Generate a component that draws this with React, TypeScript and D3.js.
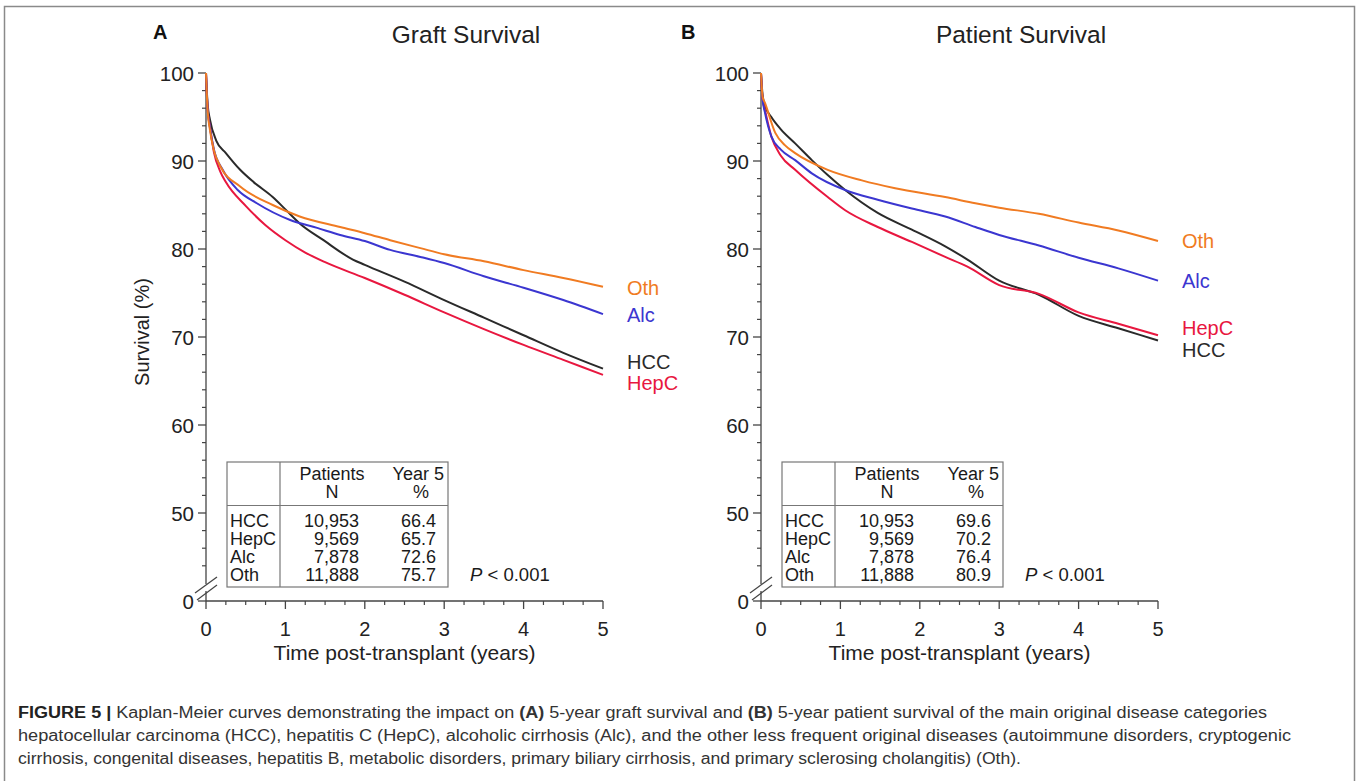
import React from "react";
import * as d3 from "d3";

type Pt = [number, number];

// Kaplan-Meier estimates (time in years, survival in %)
const graftHCC: Pt[] = [[0,100],[0.02,96.5],[0.05,94.7],[0.13,92.3],[0.25,90.9],[0.43,89.0],[0.6,87.6],[0.84,85.9],[1.0,84.5],[1.18,82.9],[1.48,81.0],[1.85,78.8],[2,78.2],[2.5,76.3],[3,74.2],[3.5,72.2],[4,70.2],[4.5,68.2],[5,66.4]];
const graftHepC: Pt[] = [[0,100],[0.02,96],[0.05,93.9],[0.1,91.0],[0.18,88.8],[0.25,87.6],[0.5,84.9],[0.75,82.7],[1.0,81.0],[1.25,79.6],[1.5,78.5],[2,76.7],[2.5,74.8],[3,72.8],[3.5,70.9],[4,69.1],[4.5,67.4],[5,65.7]];
const graftAlc: Pt[] = [[0,100],[0.02,96],[0.05,93.8],[0.1,91.3],[0.21,89.0],[0.4,86.7],[0.64,85.2],[1.06,83.3],[1.4,82.4],[1.69,81.6],[2,80.9],[2.32,79.9],[2.7,79.1],[3,78.4],[3.5,76.9],[4,75.6],[4.5,74.2],[5,72.6]];
const graftOth: Pt[] = [[0,100],[0.02,95.8],[0.05,93.5],[0.1,91.2],[0.18,89.4],[0.43,87.1],[0.84,85.0],[1.18,83.7],[1.69,82.5],[2,81.8],[2.32,81.0],[2.7,80.1],[3,79.4],[3.5,78.6],[4,77.6],[4.5,76.7],[5,75.7]];

const patientHCC: Pt[] = [[0,100],[0.02,97.5],[0.05,96.3],[0.13,95.0],[0.25,93.6],[0.43,92.0],[0.64,90.1],[0.84,88.4],[1.06,86.7],[1.47,84.1],[1.9,82.2],[2.32,80.3],[2.6,78.8],[3,76.4],[3.5,74.8],[4,72.4],[4.5,71.0],[5,69.6]];
const patientHepC: Pt[] = [[0,100],[0.02,97],[0.05,95.8],[0.13,92.8],[0.25,90.6],[0.43,89.0],[0.84,85.9],[1.06,84.4],[1.47,82.5],[1.9,80.8],[2.32,79.1],[2.6,78.0],[3,75.9],[3.5,74.9],[4,72.8],[4.5,71.5],[5,70.2]];
const patientAlc: Pt[] = [[0,100],[0.02,97],[0.05,95.5],[0.13,92.8],[0.25,91.3],[0.43,90.1],[0.64,88.6],[1.06,86.7],[1.47,85.6],[1.9,84.6],[2.32,83.7],[2.7,82.5],[3,81.6],[3.5,80.4],[4,79.0],[4.5,77.8],[5,76.4]];
const patientOth: Pt[] = [[0,100],[0.02,97.3],[0.05,96.6],[0.18,93.2],[0.3,91.8],[0.43,90.9],[0.84,89.0],[1.27,87.8],[1.69,86.9],[2.32,85.9],[2.7,85.2],[3,84.7],[3.5,84.0],[4,83.0],[4.5,82.1],[5,80.9]];

const groups = ["HCC", "HepC", "Alc", "Oth"];
const patientsN = ["10,953", "9,569", "7,878", "11,888"];
const graftYear5 = ["66.4", "65.7", "72.6", "75.7"];
const patientYear5 = ["69.6", "70.2", "76.4", "80.9"];

const yTicks = [0, 50, 60, 70, 80, 90, 100];
const xTicks = [0, 1, 2, 3, 4, 5];

const colors: Record<string, string> = {
  HCC: "#2a2a2a",
  HepC: "#e8173f",
  Alc: "#3b36d0",
  Oth: "#f07b22",
};

const FONT = "'Liberation Sans', Arial, Helvetica, sans-serif";

// Survival values below the break are drawn at 40 so that 0 sits under the break
const yScale = d3.scaleLinear().domain([40, 100]).range([601, 73]);
const yPos = (v: number) => yScale(v < 40 ? 40 : v);

interface PanelProps {
  left: number;
  letter: string;
  letterX: number;
  title: string;
  yTitle: boolean;
  series: Record<string, Pt[]>;
  year5: string[];
  labelNudge: Record<string, number>;
}

function Panel({ left, letter, letterX, title, yTitle, series, year5, labelNudge }: PanelProps) {
  const x = d3.scaleLinear().domain([0, 5]).range([left, left + 397]);
  const line = d3
    .line<Pt>()
    .x((d) => x(d[0]))
    .y((d) => yPos(d[1]))
    .curve(d3.curveMonotoneX);
  const ax = x(0);
  const minorY = d3.range(44, 100.1, 2).filter((v) => v % 10 !== 0);
  const minorX = d3.range(0, 5.01, 0.25).filter((v) => v % 1 !== 0);
  const y0 = yPos(0);
  const breakTop = y0 - 20;
  const breakBot = y0 - 13;

  const tx = ax + 21; // table left
  const tr = tx + 221;
  const tTop = 462;
  const tBot = 587;
  const rowBase = [527, 545, 563, 581];

  return (
    <g fontFamily={FONT}>
      <text x={letterX} y={39} fontSize={20} fontWeight="bold" fill="#111">{letter}</text>
      <text x={ax + 260} y={43} fontSize={24.5} textAnchor="middle" fill="#222">{title}</text>

      {/* y axis with break */}
      <line x1={ax} x2={ax} y1={73} y2={breakTop + 3} stroke="#444" strokeWidth={1.3} />
      <line x1={ax} x2={ax} y1={breakBot + 3} y2={y0} stroke="#444" strokeWidth={1.3} />
      <line x1={ax - 11} y1={breakTop + 12} x2={ax + 11} y2={breakTop - 4} stroke="#444" strokeWidth={1.2} />
      <line x1={ax - 9} y1={breakBot + 12} x2={ax + 11} y2={breakBot - 3} stroke="#444" strokeWidth={1.2} />
      {minorY.map((v) => (
        <line key={v} x1={ax - 4} x2={ax} y1={yPos(v)} y2={yPos(v)} stroke="#444" strokeWidth={1.2} />
      ))}
      {yTicks.map((v) => (
        <g key={v}>
          <line x1={ax - 8} x2={ax} y1={yPos(v)} y2={yPos(v)} stroke="#444" strokeWidth={1.3} />
          <text x={ax - 12} y={yPos(v) + 7.5} fontSize={20.5} textAnchor="end" fill="#222">{v}</text>
        </g>
      ))}
      {yTitle && (
        <text
          transform={`translate(${ax - 57},${332}) rotate(-90)`}
          fontSize={20}
          textAnchor="middle"
          fill="#222"
        >
          Survival (%)
        </text>
      )}

      {/* x axis */}
      <line x1={ax} x2={x(5)} y1={y0} y2={y0} stroke="#444" strokeWidth={1.3} />
      {minorX.map((v) => (
        <line key={v} x1={x(v)} x2={x(v)} y1={y0} y2={y0 + 4} stroke="#444" strokeWidth={1.2} />
      ))}
      {xTicks.map((v) => (
        <g key={v}>
          <line x1={x(v)} x2={x(v)} y1={y0} y2={y0 + 8} stroke="#444" strokeWidth={1.3} />
          <text x={x(v)} y={y0 + 35} fontSize={20} textAnchor="middle" fill="#222">{v}</text>
        </g>
      ))}
      <text x={x(2.5)} y={y0 + 59} fontSize={21} textAnchor="middle" fill="#222">
        Time post-transplant (years)
      </text>

      {/* survival curves */}
      {groups.map((g) => (
        <path key={g} d={line(series[g]) || ""} fill="none" stroke={colors[g]} strokeWidth={2} />
      ))}
      {groups.map((g) => {
        const last = series[g][series[g].length - 1];
        return (
          <text key={g} x={x(5) + 24} y={yPos(last[1]) + 7 + labelNudge[g]} fontSize={20} fill={colors[g]}>
            {g}
          </text>
        );
      })}

      {/* summary table */}
      <rect x={tx} y={tTop} width={tr - tx} height={tBot - tTop} fill="#fff" stroke="#777" strokeWidth={1.2} />
      <line x1={tx + 53} x2={tx + 53} y1={tTop} y2={tBot} stroke="#777" strokeWidth={1.2} />
      <line x1={tx} x2={tr} y1={tTop + 43.5} y2={tTop + 43.5} stroke="#777" strokeWidth={1.2} />
      <g fontSize={18} fill="#1a1a1a">
        <text x={tx + 105} y={480} textAnchor="middle">Patients</text>
        <text x={tx + 105} y={498} textAnchor="middle">N</text>
        <text x={tr - 4} y={480} textAnchor="end">Year 5</text>
        <text x={tr - 27} y={498} textAnchor="middle">%</text>
        {groups.map((g, i) => (
          <g key={g}>
            <text x={tx + 3} y={rowBase[i]}>{g}</text>
            <text x={tx + 132} y={rowBase[i]} textAnchor="end">{patientsN[i]}</text>
            <text x={tx + 209} y={rowBase[i]} textAnchor="end">{year5[i]}</text>
          </g>
        ))}
      </g>
      <text x={tr + 22} y={581} fontSize={18.5} fill="#1a1a1a">
        <tspan fontStyle="italic">P</tspan>
        <tspan>{" < 0.001"}</tspan>
      </text>
    </g>
  );
}

const captionLines = [
  { bold: "FIGURE 5 | ", parts: [
    ["Kaplan-Meier curves demonstrating the impact on ", false],
    ["(A)", true],
    [" 5-year graft survival and ", false],
    ["(B)", true],
    [" 5-year patient survival of the main original disease categories", false],
  ], width: 1249 },
  { bold: "", parts: [
    ["hepatocellular carcinoma (HCC), hepatitis C (HepC), alcoholic cirrhosis (Alc), and the other less frequent original diseases (autoimmune disorders, cryptogenic", false],
  ], width: 1273 },
  { bold: "", parts: [
    ["cirrhosis, congenital diseases, hepatitis B, metabolic disorders, primary biliary cirrhosis, and primary sclerosing cholangitis) (Oth).", false],
  ], width: 1003 },
];

export default function App() {
  return (
    <svg
      width={1357}
      height={781}
      style={{ position: "absolute", left: 0, top: 0, display: "block", background: "#fff" }}
    >
      <rect x={4.5} y={6.5} width={1350} height={780} fill="#fff" stroke="#8a8a8a" strokeWidth={1.5} />
      <Panel
        left={206}
        letter="A"
        letterX={153}
        title="Graft Survival"
        yTitle={true}
        series={{ HCC: graftHCC, HepC: graftHepC, Alc: graftAlc, Oth: graftOth }}
        year5={graftYear5}
        labelNudge={{ HCC: -7, HepC: 8, Alc: 1, Oth: 1 }}
      />
      <Panel
        left={761}
        letter="B"
        letterX={681}
        title="Patient Survival"
        yTitle={false}
        series={{ HCC: patientHCC, HepC: patientHepC, Alc: patientAlc, Oth: patientOth }}
        year5={patientYear5}
        labelNudge={{ HCC: 9, HepC: -7, Alc: 0, Oth: 0 }}
      />
      <g fontFamily={FONT} fontSize={16} fill="#333">
        {captionLines.map((ln, i) => (
          <text
            key={i}
            x={18}
            y={718 + i * 23}
            textLength={ln.width}
            lengthAdjust="spacingAndGlyphs"
          >
            {ln.bold && <tspan fontWeight="bold" fill="#222">{ln.bold}</tspan>}
            {ln.parts.map((p, j) => (
              <tspan key={j} fontWeight={p[1] ? "bold" : "normal"}>{p[0] as string}</tspan>
            ))}
          </text>
        ))}
      </g>
    </svg>
  );
}
